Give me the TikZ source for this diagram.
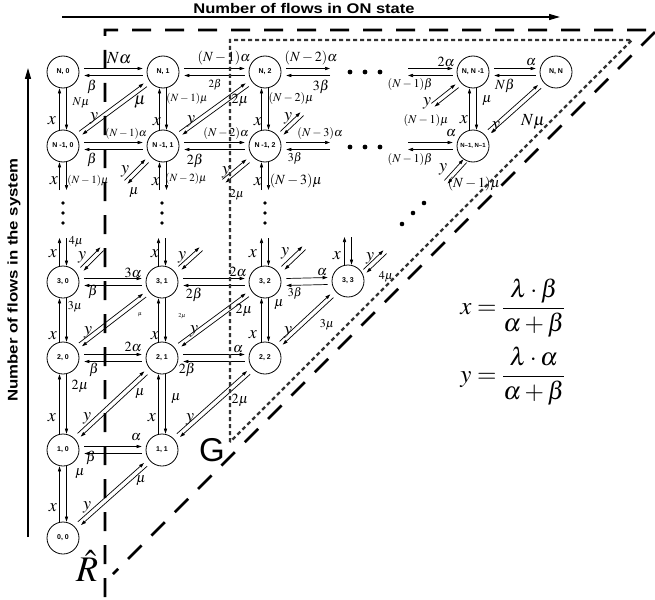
\documentclass[tikz,border=0pt]{standalone}
\usepackage{mathptmx}
\usepackage[no-math]{fontspec}
\newfontfamily\lsans{Liberation Sans}
\usetikzlibrary{calc,arrows.meta}
\newcommand\hpairG[2]{\draw[arr] ($(#1)+(0,-3.5)$) -- ($(#2)+(0,-3.5)$); \draw[arr] ($(#2)+(0,3.5)$) -- ($(#1)+(0,3.5)$);}
\newcommand\vpairG[2]{\draw[arr] ($(#2)+(-3.5,0)$) -- ($(#1)+(-3.5,0)$); \draw[arr] ($(#1)+(3.5,0)$) -- ($(#2)+(3.5,0)$);}
\newcommand\dpairG[2]{\draw[arr] ($(#1)+(-1.6,-1.6)$) -- ($(#2)+(-1.6,-1.6)$); \draw[arr] ($(#2)+(1.6,1.6)$) -- ($(#1)+(1.6,1.6)$);}
\newcommand\hpair[2]{\path ($(#1.east)+(5,0)$) coordinate (hA) ($(#2.west)+(-4,0)$) coordinate (hB); \hpairG{hA}{hB}}
\newcommand\vpair[2]{\vpairG{#1.south}{#2.north}}
\newcommand\dpair[2]{\path ($(#1.center)!22pt!(#2.center)$) coordinate (dA) ($(#2.center)!22pt!(#1.center)$) coordinate (dB); \dpairG{dA}{dB}}
\begin{document}
\begin{tikzpicture}[x=1pt,y=-1pt,
  arr/.style={line width=0.7pt,-{Triangle[length=5pt,width=3.2pt]}},
  st/.style={circle,draw,line width=0.8pt,minimum size=32pt,inner sep=0pt,font=\lsans\bfseries\fontsize{7}{7}\selectfont},
  lx/.style={inner sep=0pt,font=\fontsize{18}{18}\selectfont},
  lb/.style={inner sep=0pt,font=\fontsize{17}{17}\selectfont},
  lg/.style={inner sep=0pt,font=\fontsize{14}{14}\selectfont},
  lm/.style={inner sep=0pt,font=\fontsize{12}{12}\selectfont},
  ls/.style={inner sep=0pt,font=\fontsize{11}{11}\selectfont},
  lt/.style={inner sep=0pt,font=\fontsize{6}{6}\selectfont},
  dotc/.style={fill=black}
]
\useasboundingbox (0,0) rectangle (655,599);
% axes
\coordinate (ha) at (62,17); \coordinate (hb) at (560,17);
\draw[line width=1.4pt,-{Triangle[length=11pt,width=6pt]}] (ha) -- (hb);
\node[inner sep=0pt,font=\lsans\bfseries\fontsize{14}{14}\selectfont] (htitle) at (304,8) {\scalebox{1.18}[1]{Number of flows in ON state}};
\coordinate (va) at (28,537); \coordinate (vb) at (28,68);
\draw[line width=1.4pt,-{Triangle[length=11pt,width=6pt]}] (va) -- (vb);
\node[inner sep=0pt,rotate=90,font=\lsans\bfseries\fontsize{14}{14}\selectfont] (vtitle) at (14,280) {\scalebox{1.2}[1]{Number of flows in the system}};
% states
\node[st] (N0) at (63,72) {N, 0};
\node[st] (N1) at (163,72) {N, 1};
\node[st] (N2) at (265,72) {N, 2};
\node[st] (NA) at (473,72) {N, N -1};
\node[st] (NB) at (556,72) {N, N};
\node[st] (M0) at (63,146) {N -1, 0};
\node[st] (M1) at (163,146) {N -1, 1};
\node[st] (M2) at (265,146) {N -1, 2};
\node[st,font=\lsans\bfseries\fontsize{6}{6}\selectfont] (MM) at (473,146) {N–1, N–1};
\node[st] (T0) at (63,282) {3, 0};
\node[st] (T1) at (162,282) {3, 1};
\node[st] (T2) at (265,282) {3, 2};
\node[st] (T3) at (348,281) {3, 3};
\node[st] (S0) at (63,358) {2, 0};
\node[st] (S1) at (162,358) {2, 1};
\node[st] (S2) at (265,358) {2, 2};
\node[st] (O0) at (63,450) {1, 0};
\node[st] (O1) at (162,450) {1, 1};
\node[st] (Z0) at (63,538) {0, 0};
% full pairs
\hpair{N0}{N1} \hpair{N1}{N2} \hpair{NA}{NB}
\hpair{M0}{M1} \hpair{M1}{M2}
\hpair{T0}{T1} \hpair{T1}{T2} \hpair{T2}{T3}
\hpair{S0}{S1} \hpair{S1}{S2}
\hpair{O0}{O1}
\vpair{N0}{M0} \vpair{N1}{M1} \vpair{N2}{M2} \vpair{NA}{MM}
\vpair{T0}{S0} \vpair{T1}{S1} \vpair{T2}{S2}
\vpair{S0}{O0} \vpair{S1}{O1}
\vpair{O0}{Z0}
\dpair{M0}{N1} \dpair{M1}{N2} \dpair{MM}{NB}
\dpair{S0}{T1} \dpair{S1}{T2} \dpair{S2}{T3}
\dpair{O0}{S1} \dpair{O1}{S2}
\dpair{Z0}{O1}
% partial horizontal pairs
\coordinate (n2r) at (330,72); \path ($(N2.east)+(5,0)$) coordinate (n2e); \hpairG{n2e}{n2r}
\coordinate (m2r) at (330,146); \path ($(M2.east)+(5,0)$) coordinate (m2e); \hpairG{m2e}{m2r}
\coordinate (nal) at (408,72); \path ($(NA.west)+(-4,0)$) coordinate (naw); \hpairG{nal}{naw}
\coordinate (mml) at (408,146); \path ($(MM.west)+(-4,0)$) coordinate (mmw); \hpairG{mml}{mmw}
% partial vertical pairs
\coordinate (t0u) at (63,238); \vpairG{t0u}{T0.north}
\coordinate (t1u) at (162,238); \vpairG{t1u}{T1.north}
\coordinate (t2u) at (265,238); \vpairG{t2u}{T2.north}
\coordinate (t3u) at (348,237); \vpairG{t3u}{T3.north}
\coordinate (m0d) at (63,190); \vpairG{M0.south}{m0d}
\coordinate (m1d) at (163,190); \vpairG{M1.south}{m1d}
\coordinate (m2d) at (265,190); \vpairG{M2.south}{m2d}
% partial diagonal pairs
\coordinate (t0d) at (102,249); \dpairG{$(T0)+(19,-13)$}{t0d}
\coordinate (t1d) at (201,249); \dpairG{$(T1)+(18,-14)$}{t1d}
\coordinate (t2d) at (304,248); \dpairG{$(T2)+(18,-14)$}{t2d}
\coordinate (t3d) at (385,252); \dpairG{$(T3)+(17,-10)$}{t3d}
\coordinate (m2u) at (302,114); \dpairG{$(M2)+(17,-13)$}{m2u}
\coordinate (m1l) at (126,182); \dpairG{m1l}{$(M1)+(-16,15)$}
\coordinate (m2l) at (224,181); \dpairG{m2l}{$(M2)+(-17,15)$}
\coordinate (mmd) at (446,182); \dpairG{mmd}{$(MM)+(-8,15)$}
\coordinate (nad) at (433,105); \dpairG{nad}{$(NA)+(-16,14)$}
% dots
\foreach \px in {350,365,380} {\fill[dotc] (\px,72) circle (2.4); \fill[dotc] (\px,147) circle (2.4);}
\foreach \px in {63,162,265} {\foreach \py in {203,213,223} {\fill[dotc] (\px,\py) circle (1.9);}}
\fill[dotc] (402,224) circle (2.3); \fill[dotc] (413,213) circle (2.3); \fill[dotc] (424,203) circle (2.3);
% labels row N
\node[lb] (l1) at (119,58) {$N\alpha$};
\node[lg] (l2) at (92,87) {$\beta$};
\node[lg] (l3) at (224,58) {$(N-1)\alpha$};
\node[ls] (l4) at (215,85) {$2\beta$};
\node[lg] (l5) at (311,58) {$(N-2)\alpha$};
\node[lg] (l6) at (321,87) {$3\beta$};
\node[lg] (l7) at (446,62) {$2\alpha$};
\node[lm] (l8) at (410,85) {$(N-1)\beta$};
\node[lg] (l9) at (531,62) {$\alpha$};
\node[lg] (l10) at (505,86) {$N\beta$};
% labels row N-1
\node[ls] (l11) at (126,134) {$(N-1)\alpha$};
\node[lg] (l12) at (92,160) {$\beta$};
\node[lm] (l13) at (226,133) {$(N-2)\alpha$};
\node[lg] (l14) at (195,161) {$2\beta$};
\node[lm] (l15) at (320,133) {$(N-3)\alpha$};
\node[lm] (l16) at (295,158) {$3\beta$};
\node[lg] (l17) at (451,133) {$\alpha$};
\node[lm] (l18) at (410,159) {$(N-1)\beta$};
% verticals N / N-1
\node[lx] (l19) at (52,121) {$x$};
\node[lm] (l20) at (81,103) {$N\mu$};
\node[lx] (l21) at (157,122) {$x$};
\node[ls] (l22) at (187,99) {$(N-1)\mu$};
\node[lx] (l23) at (258,122) {$x$};
\node[lm] (l24) at (291,99) {$(N-2)\mu$};
\node[lx] (l25) at (464,120) {$x$};
\node[lg] (l26) at (487,101) {$\mu$};
% diagonals N / N-1
\node[lx] (l27) at (94,118) {$y$};
\node[lb] (l28) at (140,102) {$\mu$};
\node[lx] (l29) at (191,121) {$y$};
\node[lg] (l30) at (240,100) {$2\mu$};
\node[lx] (l31) at (288,118) {$y$};
\node[lx] (l32) at (427,103) {$y$};
\node[lm] (l33) at (426,121) {$(N-1)\mu$};
\node[lx] (l34) at (496,127) {$y$};
\node[lb] (l35) at (533,122) {$N\mu$};
% below row N-1
\node[lx] (l36) at (54,181) {$x$};
\node[ls] (l37) at (88,181) {$(N-1)\mu$};
\node[lx] (l38) at (125,171) {$y$};
\node[lg] (l39) at (134,193) {$\mu$};
\node[lx] (l40) at (156,182) {$x$};
\node[ls] (l41) at (186,179) {$(N-2)\mu$};
\node[lx] (l42) at (226,172) {$y$};
\node[lm] (l43) at (237,195) {$2\mu$};
\node[lx] (l44) at (258,182) {$x$};
\node[lg] (l45) at (296,181) {$(N-3)\mu$};
\node[lx] (l46) at (443,169) {$y$};
\node[lg] (l47) at (474,184) {$(N-1)\mu$};
% above row 3
\node[lx] (l48) at (53,254) {$x$};
\node[lm] (l49) at (76,242) {$4\mu$};
\node[lx] (l50) at (82,257) {$y$};
\node[lx] (l51) at (155,254) {$x$};
\node[lx] (l52) at (182,257) {$y$};
\node[lx] (l53) at (253,254) {$x$};
\node[lx] (l54) at (285,253) {$y$};
\node[lx] (l55) at (337,256) {$x$};
\node[lx] (l56) at (370,258) {$y$};
\node[lm] (l57) at (386,277) {$4\mu$};
% row 3
\node[lg] (l58) at (133,273) {$3\alpha$};
\node[lg] (l59) at (93,292) {$\beta$};
\node[lg] (l60) at (238,272) {$2\alpha$};
\node[lg] (l61) at (194,295) {$2\beta$};
\node[lg] (l62) at (322,272) {$\alpha$};
\node[lm] (l63) at (295,293) {$3\beta$};
% row 3 / 2
\node[lx] (l64) at (53,336) {$x$};
\node[lm] (l65) at (75,307) {$3\mu$};
\node[lx] (l66) at (155,336) {$x$};
\node[lt] (l67) at (182,316) {$2\mu$};
\node[lx] (l68) at (253,335) {$x$};
\node[lg] (l69) at (279,305) {$\mu$};
\node[lx] (l70) at (88,332) {$y$};
\node[lt] (l71) at (140,315) {$\mu$};
\node[lx] (l72) at (194,331) {$y$};
\node[lg] (l73) at (244,310) {$2\mu$};
\node[lx] (l74) at (288,332) {$y$};
\node[lm] (l75) at (327,325) {$3\mu$};
% row 2
\node[lg] (l76) at (133,347) {$2\alpha$};
\node[lg] (l77) at (94,370) {$\beta$};
\node[lg] (l78) at (238,349) {$\alpha$};
\node[lg] (l79) at (187,370) {$2\beta$};
% row 2 / 1
\node[lx] (l80) at (52,418) {$x$};
\node[lg] (l81) at (80,386) {$2\mu$};
\node[lx] (l82) at (152,418) {$x$};
\node[lg] (l83) at (176,399) {$\mu$};
\node[lx] (l84) at (87,418) {$y$};
\node[lg] (l85) at (140,394) {$\mu$};
\node[lx] (l86) at (190,419) {$y$};
\node[lg] (l87) at (240,400) {$2\mu$};
% row 1 / 0
\node[lg] (l88) at (136,437) {$\alpha$};
\node[lg] (l89) at (91,458) {$\beta$};
\node[lx] (l90) at (53,508) {$x$};
\node[lg] (l91) at (80,474) {$\mu$};
\node[lx] (l92) at (87,507) {$y$};
\node[lg] (l93) at (141,481) {$\mu$};
% formulas
\node[inner sep=0pt,font=\fontsize{25}{25}\selectfont] (fx) at (513,308) {$x=\displaystyle\frac{\lambda\cdot\beta}{\alpha+\beta}$};
\node[inner sep=0pt,font=\fontsize{25}{25}\selectfont] (fy) at (513,376) {$y=\displaystyle\frac{\lambda\cdot\alpha}{\alpha+\beta}$};
% region marks
\node[inner sep=0pt,font=\lsans\fontsize{33}{33}\selectfont] (G) at (212,450) {G};
\node[inner sep=0pt,font=\fontsize{36}{36}\selectfont] (R) at (87,566) {$\hat{R}$};
% boundaries
\draw[line width=2.8pt,dash pattern=on 19pt off 14pt] (105,597) -- (105,30) -- (657,30) -- (113,574);
\draw[line width=2.3pt,black!80,dash pattern=on 4pt off 3pt] (230,442) -- (230,40) -- (632,40) -- cycle;
\end{tikzpicture}
\end{document}
